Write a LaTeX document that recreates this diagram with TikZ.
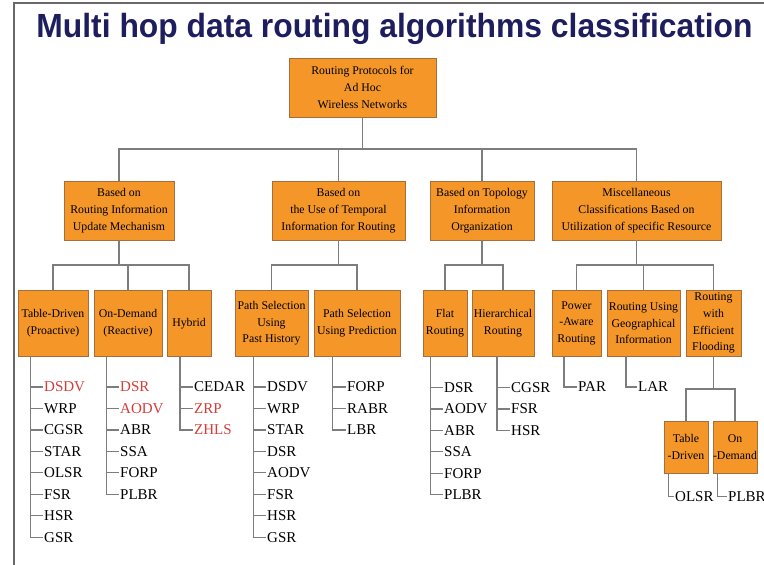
\documentclass[tikz,border=0pt]{standalone}
\usepackage{fontspec}
\setmainfont{Liberation Serif}
\newfontfamily\titlefont{Liberation Sans}
\usetikzlibrary{calc}
\definecolor{boxfill}{RGB}{244,150,40}
\definecolor{boxline}{RGB}{165,110,60}
\definecolor{connc}{RGB}{125,125,125}
\definecolor{titlec}{RGB}{30,30,95}
\definecolor{redtxt}{RGB}{215,60,55}
\definecolor{framec}{RGB}{105,105,105}
\newcommand\rd{\color{redtxt}}
\tikzset{
  box/.style={draw=boxline, line width=0.8pt, fill=boxfill, align=center, inner sep=0pt,
    font=\fontsize{11.8}{16.7}\selectfont},
  conn/.style={draw=connc, line width=1.2pt},
  item/.style={anchor=west, inner sep=1pt, font=\fontsize{15}{18}\selectfont},
}
\newcommand\plist[6]{%
  \coordinate (#1-v) at (#2,0);
  \foreach \t [count=\i] in {#5} {
    \node[item] (#1-\i) at (#3, {#4+21.45*(\i-1)}) {\t};
    \draw[conn] (#2, {#4+21.45*(\i-1)}) -- (#1-\i.west);
  }
  \draw[conn] (#1.south -| #1-v) |- (#1-#6.west);
}
\begin{document}
\begin{tikzpicture}[x=1pt,y=-1pt]
\clip (0,0) rectangle (764,565);
\fill[white] (0,0) rectangle (764,565);
\draw[framec, line width=2pt] (14,565) -- (14,2.5) -- (770,2.5);
\node[anchor=base, text=titlec, inner sep=0pt] (title) at (394.5,37)
  {\scalebox{0.95}[1]{\titlefont\bfseries\fontsize{33.5}{36}\selectfont Multi hop data routing algorithms classification}};

% level 1
\node[box, minimum width=147pt, minimum height=59pt] (root) at (362.5,87.5) {Routing Protocols for\\Ad Hoc\\Wireless Networks};
% level 2
\node[box, minimum width=110pt, minimum height=59pt] (A) at (119,210.5) {Based on\\Routing Information\\Update Mechanism};
\node[box, minimum width=133pt, minimum height=59pt] (B) at (338.5,210.5) {Based on\\the Use of Temporal\\Information for Routing};
\node[box, minimum width=104pt, minimum height=59pt] (C) at (482,210.5) {Based on Topology\\Information\\Organization};
\node[box, minimum width=169pt, minimum height=59pt] (D) at (636.5,210.5) {Miscellaneous\\Classifications Based on\\Utilization of specific Resource};
% level 3
\node[box, minimum width=70pt, minimum height=65.5pt] (td) at (53,323.25) {Table-Driven\\(Proactive)};
\node[box, minimum width=68pt, minimum height=65.5pt] (od) at (128,323.25) {On-Demand\\(Reactive)};
\node[box, minimum width=44pt, minimum height=65.5pt] (hy) at (189,323.25) {Hybrid};
\node[box, minimum width=73pt, minimum height=65.5pt] (ph) at (271.5,323.25) {Path Selection\\Using\\Past History};
\node[box, minimum width=86pt, minimum height=65.5pt] (pp) at (357,323.25) {Path Selection\\Using Prediction};
\node[box, minimum width=44pt, minimum height=65.5pt] (fl) at (445,323.25) {Flat\\Routing};
\node[box, minimum width=62pt, minimum height=65.5pt] (hi) at (503,323.25) {Hierarchical\\Routing};
\node[box, minimum width=49pt, minimum height=65.5pt] (pa) at (576.5,323.25) {Power\\-Aware\\Routing};
\node[box, minimum width=73pt, minimum height=65.5pt] (ge) at (643.5,323.25) {Routing Using\\Geographical\\Information};
\node[box, minimum width=55pt, minimum height=65.5pt] (ef) at (713.5,323.25) {Routing\\with\\Efficient\\Flooding};
% level 4
\node[box, minimum width=44pt, minimum height=52pt] (tdb) at (686,447) {Table\\-Driven};
\node[box, minimum width=44pt, minimum height=52pt] (odb) at (735,447) {On\\-Demand};

% tree connectors
\coordinate (bus1) at (362.5,149);
\draw[conn] (root.south) -- (bus1);
\draw[conn] (A.north) |- (bus1) -| (D.north);
\draw[conn] (B.north) -- (B.north |- bus1);
\draw[conn] (C.north) -- (C.north |- bus1);

\coordinate (busA) at (119,265);
\draw[conn] (A.south) -- (busA);
\draw[conn] (td.north) |- (busA) -| (hy.north);
\draw[conn] (od.north) -- (od.north |- busA);

\coordinate (busB) at (338.5,265);
\draw[conn] (B.south) -- (busB);
\draw[conn] (ph.north) |- (busB) -| (pp.north);

\coordinate (busC) at (482,265);
\draw[conn] (C.south) -- (busC);
\draw[conn] (fl.north) |- (busC) -| (hi.north);

\coordinate (busD) at (636.5,265);
\draw[conn] (D.south) -- (busD);
\draw[conn] (pa.north) |- (busD) -| (ef.north);
\draw[conn] (ge.north) -- (ge.north |- busD);

\coordinate (busE) at (713.5,389);
\draw[conn] (ef.south) -- (busE);
\draw[conn] (tdb.north) |- (busE) -| (odb.north);

% lists
\plist{td}{30.7}{43}{387}{{\rd DSDV},WRP,CGSR,STAR,OLSR,FSR,HSR,GSR}{8}
\plist{od}{106.7}{119}{387}{{\rd DSR},{\rd AODV},ABR,SSA,FORP,PLBR}{6}
\plist{hy}{180}{193}{387}{CEDAR,{\rd ZRP},{\rd ZHLS}}{3}
\plist{ph}{253.3}{266}{387}{DSDV,WRP,STAR,DSR,AODV,FSR,HSR,GSR}{8}
\plist{pp}{332.7}{346}{387}{FORP,RABR,LBR}{3}
\plist{fl}{430.7}{443}{387.5}{DSR,AODV,ABR,SSA,FORP,PLBR}{6}
\plist{hi}{497}{510}{387.5}{CGSR,FSR,HSR}{3}
\plist{pa}{564}{577}{387}{PAR}{1}
\plist{ge}{626}{637}{387}{LAR}{1}
\plist{tdb}{668.3}{674}{496.7}{OLSR}{1}
\plist{odb}{717.3}{727}{496.7}{PLBR}{1}
\end{tikzpicture}
\end{document}
